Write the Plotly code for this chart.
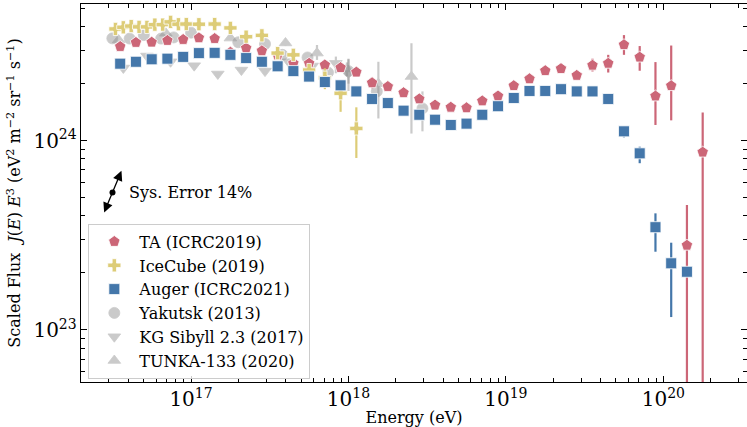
import numpy as np
import plotly.graph_objects as go

# Cosmic-ray energy spectra: log10(E/eV) and scaled flux E^3 J(E)
# in units of 1e24 eV^2 m^-2 sr^-1 s^-1, with upper/lower error bars.

ta_logE = [16.55, 16.65, 16.75, 16.85, 16.95, 17.05, 17.15, 17.25, 17.35, 17.45,
           17.55, 17.65, 17.75, 17.85, 17.95, 18.05, 18.15, 18.25, 18.35, 18.45,
           18.55, 18.65, 18.75, 18.85, 18.95, 19.05, 19.15, 19.25, 19.35, 19.45,
           19.55, 19.65, 19.75, 19.85, 19.95, 20.05, 20.15, 20.25]
ta_flux = [3.14, 3.30, 3.31, 3.38, 3.42, 3.49, 3.46, 2.93, 3.08, 2.98,
           2.83, 2.56, 2.56, 2.51, 2.43, 2.30, 2.02, 1.93, 1.79, 1.66,
           1.54, 1.50, 1.49, 1.62, 1.72, 1.95, 2.12, 2.34, 2.40, 2.21,
           2.50, 2.56, 3.21, 2.76, 1.72, 1.95, 0.280, 0.869]
ta_up = [0.03, 0.03, 0.03, 0.03, 0.03, 0.03, 0.03, 0.03, 0.03, 0.03,
         0.03, 0.03, 0.03, 0.04, 0.05, 0.06, 0.12, 0.05, 0.03, 0.03,
         0.03, 0.03, 0.03, 0.03, 0.04, 0.04, 0.05, 0.06, 0.08, 0.11,
         0.21, 0.28, 0.40, 0.40, 0.88, 1.23, 0.177, 0.54]
ta_dn = [0.03, 0.03, 0.03, 0.03, 0.03, 0.03, 0.03, 0.03, 0.03, 0.03,
         0.03, 0.03, 0.03, 0.04, 0.05, 0.06, 0.13, 0.05, 0.03, 0.03,
         0.03, 0.03, 0.03, 0.03, 0.04, 0.04, 0.05, 0.06, 0.08, 0.12,
         0.18, 0.27, 0.37, 0.42, 0.51, 0.67, 0.27, 0.86]

ice_logE = [16.52, 16.57, 16.62, 16.67, 16.72, 16.77, 16.82, 16.87, 16.92, 16.97,
            17.05, 17.15, 17.25, 17.35, 17.45, 17.55, 17.65, 17.75, 17.85, 17.95, 18.05]
ice_flux = [3.89, 3.97, 4.03, 3.99, 3.99, 4.10, 4.10, 4.24, 4.12, 4.13,
            4.12, 4.13, 3.94, 3.54, 3.60, 2.90, 2.84, 2.36, 2.15, 1.78, 1.16]
ice_up = [0.04, 0.04, 0.04, 0.04, 0.04, 0.04, 0.04, 0.04, 0.04, 0.04,
          0.04, 0.04, 0.05, 0.05, 0.06, 0.07, 0.08, 0.10, 0.26, 0.31, 0.34]
ice_dn = [0.04, 0.04, 0.04, 0.04, 0.04, 0.04, 0.04, 0.04, 0.04, 0.04,
          0.04, 0.04, 0.05, 0.05, 0.06, 0.07, 0.08, 0.10, 0.28, 0.36, 0.35]

auger_logE = [16.55, 16.65, 16.75, 16.85, 16.95, 17.05, 17.15, 17.25, 17.35, 17.45,
              17.55, 17.65, 17.75, 17.85, 17.95, 18.05, 18.15, 18.25, 18.35, 18.45,
              18.55, 18.65, 18.75, 18.85, 18.95, 19.05, 19.15, 19.25, 19.35, 19.45,
              19.55, 19.65, 19.75, 19.85, 19.95, 20.05, 20.15]
auger_flux = [2.55, 2.61, 2.69, 2.71, 2.77, 2.90, 2.91, 2.84, 2.73, 2.61,
              2.47, 2.33, 2.18, 2.04, 1.96, 1.82, 1.66, 1.58, 1.44, 1.37,
              1.29, 1.21, 1.23, 1.37, 1.52, 1.68, 1.83, 1.83, 1.87, 1.82,
              1.82, 1.66, 1.12, 0.857, 0.349, 0.225, 0.203]
auger_up = [0.02, 0.02, 0.02, 0.02, 0.02, 0.02, 0.02, 0.02, 0.02, 0.02,
            0.02, 0.02, 0.02, 0.02, 0.02, 0.02, 0.02, 0.02, 0.02, 0.02,
            0.02, 0.02, 0.02, 0.02, 0.02, 0.02, 0.02, 0.02, 0.03, 0.03,
            0.04, 0.04, 0.07, 0.072, 0.064, 0.064, 0.01]
auger_dn = [0.02, 0.02, 0.02, 0.02, 0.02, 0.02, 0.02, 0.02, 0.02, 0.02,
            0.02, 0.02, 0.02, 0.02, 0.02, 0.02, 0.02, 0.02, 0.02, 0.02,
            0.02, 0.02, 0.02, 0.02, 0.02, 0.02, 0.02, 0.02, 0.03, 0.03,
            0.04, 0.04, 0.08, 0.097, 0.090, 0.108, 0.01]

yak_logE = [16.50, 16.61, 16.70, 16.81, 16.89, 17.00, 17.30, 17.47, 17.58, 17.74,
            17.87, 18.00, 18.18, 18.47]
yak_flux = [3.47, 3.46, 3.61, 3.46, 3.51, 3.72, 3.31, 3.24, 2.84, 2.75,
            2.29, 2.33, 1.82, 1.48]
yak_up = [0.05, 0.05, 0.05, 0.05, 0.05, 0.05, 0.06, 0.07, 0.08, 0.10,
          0.12, 0.36, 0.20, 0.34]
yak_dn = [0.05, 0.05, 0.05, 0.05, 0.05, 0.05, 0.06, 0.07, 0.08, 0.10,
          0.12, 0.33, 0.20, 0.36]

kg_logE = [16.57, 16.72, 16.87, 17.02, 17.17, 17.32, 17.47, 17.62, 17.77, 17.92, 18.00]
kg_flux = [2.42, 2.80, 2.61, 2.49, 2.25, 2.36, 2.33, 2.61, 2.48, 2.56, 2.27]
kg_up = [0.05, 0.05, 0.05, 0.06, 0.06, 0.07, 0.08, 0.10, 0.12, 0.22, 0.44]
kg_dn = [0.05, 0.05, 0.05, 0.06, 0.06, 0.07, 0.08, 0.10, 0.12, 0.29, 0.44]

tunka_logE = [16.54, 16.84, 17.25, 17.60, 17.80, 17.99, 18.19, 18.40]
tunka_flux = [3.40, 3.69, 3.48, 3.28, 2.90, 2.39, 2.00, 2.18]
tunka_up = [0.05, 0.06, 0.08, 0.12, 0.30, 0.20, 0.61, 1.09]
tunka_dn = [0.05, 0.06, 0.08, 0.12, 0.23, 0.20, 0.69, 1.09]

# Energy-scale systematic uncertainty and where its marker sits
sys_error = 0.14
sys_center_E = 3.17e16
sys_center_F = 5.33e23

x_limits = [2e16, 3.4e20]
y_limits = [5.31e22, 5.27e24]

FONT = "DejaVu Serif"
UNIT = 1e24

fig = go.Figure()


def add_series(logE, flux, up, dn, name, symbol, color, size, rank,
               opacity=1.0, edge="white"):
    fig.add_trace(go.Scatter(
        x=10 ** np.array(logE),
        y=np.array(flux) * UNIT,
        mode="markers",
        name=name,
        legendrank=rank,
        opacity=opacity,
        marker=dict(symbol=symbol, size=size, color=color,
                    line=dict(color=edge, width=0.8)),
        error_y=dict(type="data", symmetric=False,
                     array=np.array(up) * UNIT,
                     arrayminus=np.array(dn) * UNIT,
                     color=color, thickness=2.2, width=0),
    ))


# Grey reference measurements sit underneath the coloured ones
add_series(yak_logE, yak_flux, yak_up, yak_dn, "Yakutsk (2013)",
           "circle", "#8c8c8c", 11, 4, opacity=0.45, edge="#8c8c8c")
add_series(kg_logE, kg_flux, kg_up, kg_dn, "KG Sibyll 2.3 (2017)",
           "triangle-down", "#8c8c8c", 11, 5, opacity=0.45, edge="#8c8c8c")
add_series(tunka_logE, tunka_flux, tunka_up, tunka_dn, "TUNKA-133 (2020)",
           "triangle-up", "#8c8c8c", 11, 6, opacity=0.45, edge="#8c8c8c")
add_series(ta_logE, ta_flux, ta_up, ta_dn, "TA (ICRC2019)",
           "pentagon", "#CC6677", 12, 1)
add_series(ice_logE, ice_flux, ice_up, ice_dn, "IceCube (2019)",
           "cross", "#DDCC77", 11, 2)
add_series(auger_logE, auger_flux, auger_up, auger_dn, "Auger (ICRC2021)",
           "square", "#4477AA", 11, 3)

# Systematic-error marker: a 14% energy shift moves E^3 J by the square of it
dlogE = np.log10(1 + sys_error)
cx, cy = np.log10(sys_center_E), np.log10(sys_center_F)
fig.add_annotation(x=cx + dlogE, y=cy + 2 * dlogE, ax=cx - dlogE, ay=cy - 2 * dlogE,
                   xref="x", yref="y", axref="x", ayref="y", text="",
                   showarrow=True, arrowside="end+start", arrowhead=2,
                   arrowsize=1.5, arrowwidth=1.3, arrowcolor="black")
fig.add_trace(go.Scatter(x=[sys_center_E], y=[sys_center_F], mode="markers",
                         marker=dict(color="black", size=6), showlegend=False,
                         hoverinfo="skip"))
fig.add_annotation(x=cx + 0.095, y=cy, xref="x", yref="y", xanchor="left",
                   yanchor="middle", showarrow=False,
                   text="Sys. Error %d%%" % round(sys_error * 100),
                   font=dict(family=FONT, size=16, color="black"))

axis_common = dict(
    type="log", showline=True, linecolor="black", linewidth=1.2,
    mirror="allticks", ticks="inside", ticklen=6, tickwidth=1, tickcolor="black",
    dtick=1, exponentformat="power", showgrid=False, zeroline=False,
    tickfont=dict(family=FONT, size=16, color="black"),
    minor=dict(ticks="inside", ticklen=3.5, tickwidth=0.8, tickcolor="black",
               dtick="D1", showgrid=False),
)

fig.update_layout(
    width=747, height=427,
    margin=dict(l=81, r=0, t=4, b=45),
    paper_bgcolor="white", plot_bgcolor="white",
    font=dict(family=FONT, size=16, color="black"),
    xaxis=dict(axis_common, range=[np.log10(x_limits[0]), np.log10(x_limits[1])],
               title=dict(text="Energy (eV)", font=dict(family=FONT, size=16),
                          standoff=6)),
    yaxis=dict(axis_common, range=[np.log10(y_limits[0]), np.log10(y_limits[1])],
               title=dict(text="Scaled Flux  <i>J</i>(<i>E</i>) <i>E</i><sup>3</sup> "
                               "(eV<sup>2</sup> m<sup>−2</sup> sr<sup>−1</sup> s<sup>−1</sup>)",
                          font=dict(family=FONT, size=16), standoff=8)),
    legend=dict(x=0.011, y=0.419, xanchor="left", yanchor="top",
                bgcolor="rgba(255,255,255,0.8)", bordercolor="#cccccc",
                borderwidth=1, font=dict(family=FONT, size=16, color="black"),
                itemwidth=40, tracegroupgap=0),
    showlegend=True,
)

fig.write_html("out.html")
